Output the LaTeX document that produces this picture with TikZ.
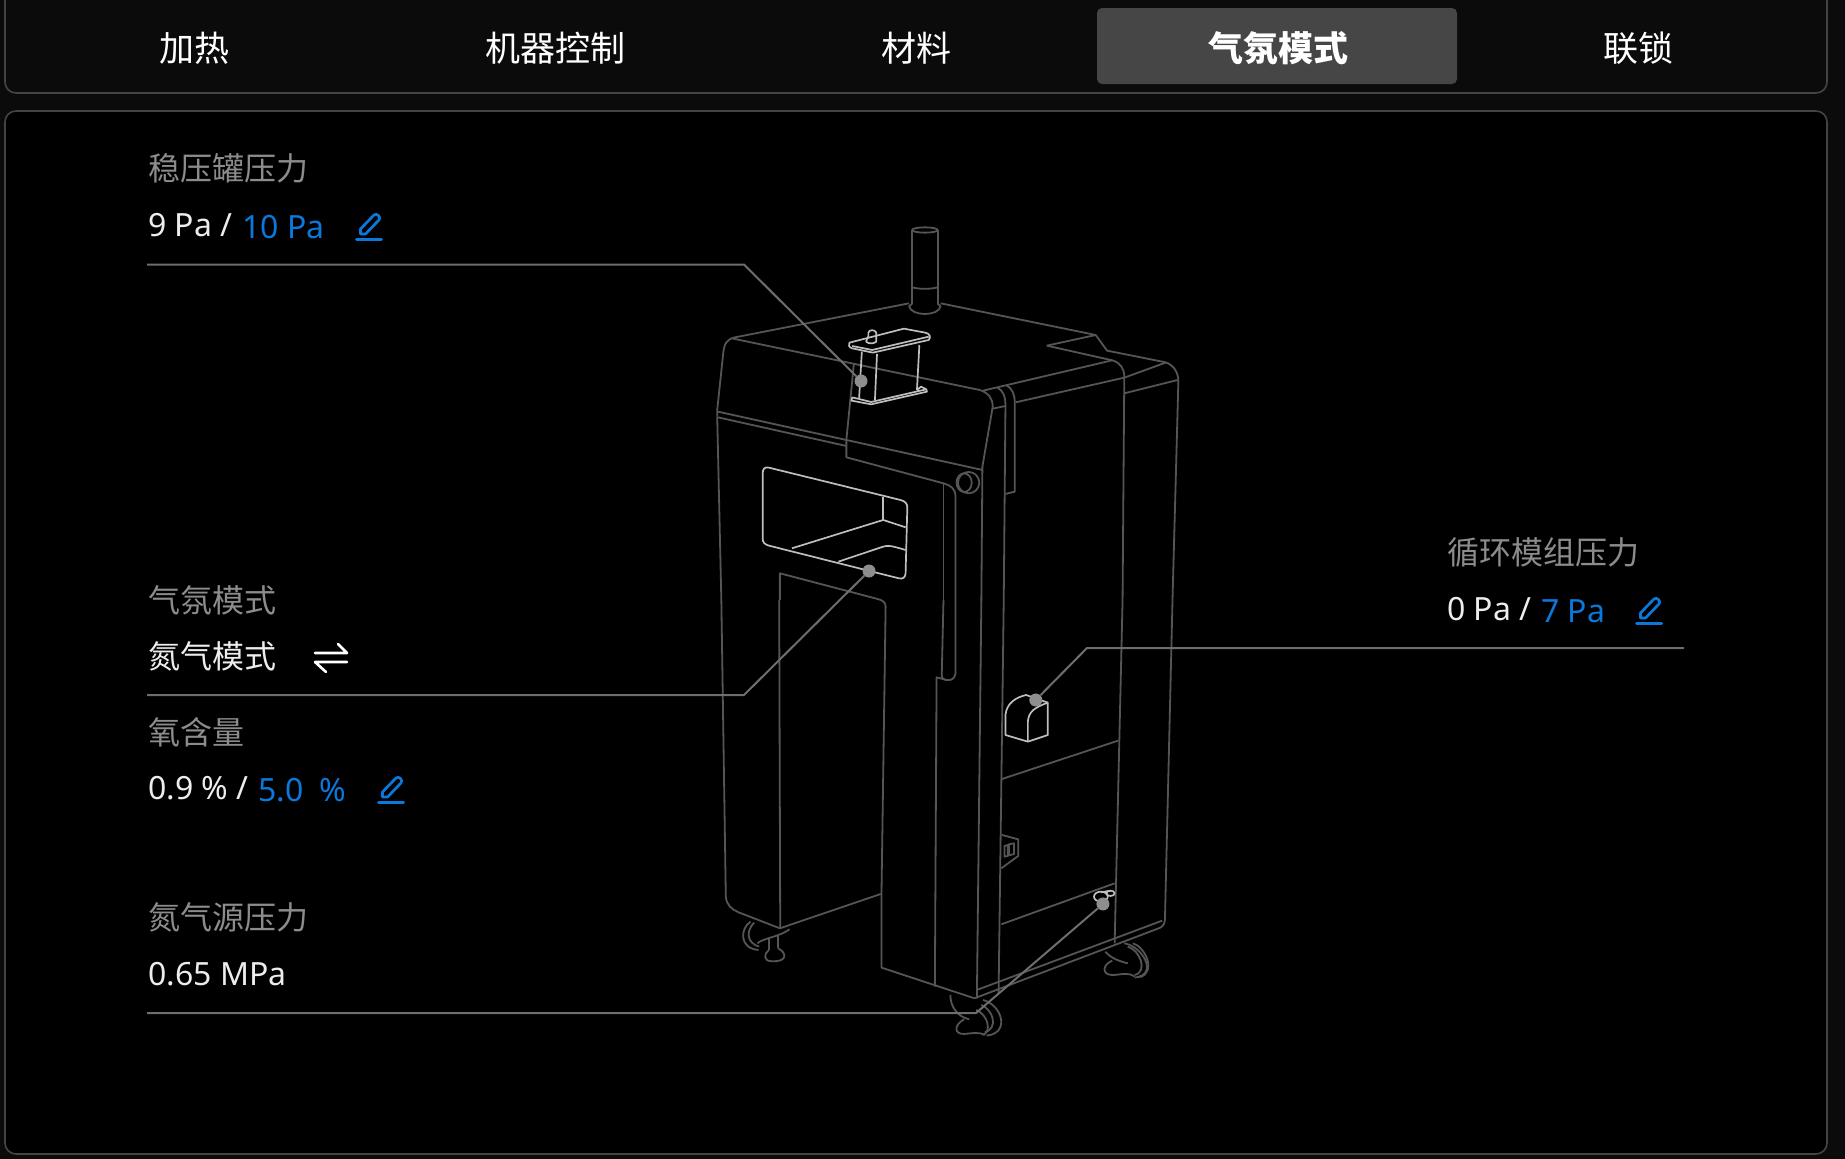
\documentclass[tikz,border=0pt]{standalone}
\usepackage{fontspec}
\setmainfont{Noto Sans}
\newfontfamily\cjkf{Noto Sans CJK SC}
\definecolor{pagebg}{HTML}{0B0B0B}
\definecolor{edge}{HTML}{444444}
\definecolor{tabon}{HTML}{464646}
\definecolor{lab}{HTML}{8C8C8C}
\definecolor{val}{HTML}{EDEDED}
\definecolor{blu}{HTML}{0A78DC}
\definecolor{mline}{HTML}{555555}
\definecolor{bright}{HTML}{BEBEBE}
\definecolor{callout}{HTML}{6E6E6E}
\definecolor{dotc}{HTML}{8E8E8E}
\tikzset{
  tabtext/.style={text=white,font=\cjkf\fontsize{35}{35}\selectfont,inner sep=0pt},
  labtext/.style={text=lab,font=\cjkf\fontsize{32}{32}\selectfont,inner sep=0pt,anchor=base west},
  cjkval/.style={text=val,font=\cjkf\fontsize{32}{32}\selectfont,inner sep=0pt,anchor=base west},
  valtext/.style={text=val,font=\fontsize{32}{32}\selectfont,inner sep=0pt,anchor=base west},
  blutext/.style={text=blu,font=\fontsize{32}{32}\selectfont,inner sep=0pt,anchor=base west},
  mach/.style={draw=mline,line width=1.8pt,line join=round},
  brt/.style={draw=bright,line width=1.7pt,line join=round},
  call/.style={draw=callout,line width=2pt},
  hotdot/.style={circle,fill=dotc,inner sep=0pt,minimum size=13pt},
  ztop/.style={shift={(680,200)},x=0.3444pt,y=-0.3333pt},
  zbot/.style={shift={(680,600)},x=0.3444pt,y=-0.3333pt},
  pencil/.pic={
    \draw[blu,line width=3pt,line cap=round] (-12.5,13) -- (12.5,13);
    \draw[blu,line width=2.7pt,line join=round] (-8.5,8) -- (-8.5,3) -- (5,-11) .. controls (7.5,-13.5) and (12.5,-9) .. (10,-6) -- (-3.5,8) -- cycle;
  }
}
\begin{document}
\begin{tikzpicture}[x=1pt,y=-1pt]
\useasboundingbox (0,0) rectangle (1845,1159);
\fill[pagebg] (0,0) rectangle (1845,1159);
% panels
\draw[edge,line width=1.6pt,fill=pagebg,rounded corners=11pt] (5,-30) rectangle (1827,93);
\draw[edge,line width=1.6pt,fill=black,rounded corners=11pt] (5,111) rectangle (1827,1154);
\fill[tabon,rounded corners=5pt] (1097,8) rectangle (1457,84);
% tabs
\node[tabtext] (t1) at (194,48) {加热};
\node[tabtext] (t2) at (555,48) {机器控制};
\node[tabtext] (t3) at (916,48) {材料};
\node[tabtext,font=\cjkf\bfseries\fontsize{35}{35}\selectfont] (t4) at (1278,48) {气氛模式};
\node[tabtext] (t5) at (1638,48) {联锁};
% machine, upper part
\begin{scope}[ztop]
  % beacon
  \draw[mach] (711,90) ellipse (37 and 8);
  \draw[mach] (674,90) -- (674,312);
  \draw[mach] (748,90) -- (748,312);
  \draw[mach] (674,262) .. controls (695,268) and (727,268) .. (748,262);
  \draw[mach] (665,318) .. controls (670,350) and (752,350) .. (757,318);
  \draw[mach] (665,318) -- (674,312);
  \draw[mach] (757,318) -- (748,312);
  % top outline
  \draw[mach] (108,650) -- (108,630) -- (125,465) .. controls (128,430) and (135,418) .. (160,412) -- (665,310);
  \draw[mach] (757,310) -- (1207,405) -- (1240,452) -- (1410,487) .. controls (1432,495) and (1447,515) .. (1447,545) -- (1430,1200);
  \draw[mach] (150,415) -- (870,570) .. controls (895,578) and (908,595) .. (908,620) -- (878,800) -- (875,1200);
  \draw[mach] (1065,437) -- (1207,405);
  \draw[mach] (1065,437) -- (1255,481) .. controls (1278,488) and (1290,505) .. (1290,530) -- (1285,1200);
  \draw[mach] (880,572) -- (1255,481);
  \draw[mach] (908,626) -- (945,618);
  \draw[mach] (922,563) .. controls (938,572) and (945,590) .. (945,612) -- (940,1200);
  \draw[mach] (948,556) .. controls (965,565) and (972,585) .. (972,605) -- (972,875) -- (945,882);
  \draw[mach] (975,607) -- (1290,533) -- (1410,488);
  \draw[mach] (1290,580) -- (1445,540);
  % bands
  \draw[mach] (110,635) -- (878,810);
  \draw[mach] (110,652) -- (483,738);
  \draw[mach] (505,490) -- (483,720) -- (483,772) -- (765,850) .. controls (785,856) and (800,865) .. (800,890) -- (800,1200);
  \draw[mach] (765,850) -- (765,1200);
  \draw[mach] (108,650) -- (120,1200);
  % hinge
  \draw[mach] (838,848) ellipse (31 and 32);
  \draw[mach] (825,848) ellipse (22 and 28);
  % door opening top
  \draw[mach] (290,1200) -- (290,1120) -- (570,1196);
  % window
  \draw[brt] (258,803) -- (640,900) .. controls (652,903) and (660,910) .. (660,922) -- (655,1120) .. controls (654,1132) and (648,1138) .. (635,1135) -- (258,1037) .. controls (245,1033) and (240,1027) .. (240,1015) -- (240,820) .. controls (240,806) and (247,800) .. (258,803) -- cycle;
  \draw[brt] (590,890) -- (590,960);
  \draw[brt] (325,1045) -- (590,960) -- (655,982);
  \draw[brt] (460,1085) -- (590,1040) .. controls (605,1035) and (615,1038) .. (655,1050);
  % bracket
  \draw[brt] (492,428) -- (650,386) -- (712,398) .. controls (725,400) and (730,412) .. (722,420) -- (560,458) -- (500,445) .. controls (490,442) and (488,434) .. (492,428) -- cycle;
  \draw[brt] (500,438) -- (558,450) -- (722,410);
  \draw[brt] (540,425) -- (547,408) -- (547,398) .. controls (550,388) and (565,388) .. (570,398) -- (570,425) .. controls (562,432) and (548,432) .. (540,425);
  \draw[brt] (528,455) -- (520,595);
  \draw[brt] (572,462) -- (566,600);
  \draw[brt] (695,435) -- (688,570);
  \draw[brt] (500,592) -- (555,606) -- (715,568) -- (700,560) -- (688,570);
  \draw[brt] (500,592) -- (498,602) -- (555,613) -- (717,575) -- (715,568);
\end{scope}
% machine, lower part
\begin{scope}[zbot]
  \draw[mach] (120,0) -- (133,890) .. controls (135,915) and (150,928) .. (170,937) -- (290,985) -- (583,882);
  \draw[mach] (288,0) -- (291,985);
  \draw[mach] (570,-4) .. controls (590,0) and (597,8) .. (597,20) -- (585,882) -- (585,1103) -- (855,1195);
  \draw[mach] (765,0) -- (760,225) .. controls (760,235) and (765,240) .. (775,240);
  \draw[mach] (800,0) -- (800,220) .. controls (798,238) and (785,242) .. (775,240) -- (745,232) -- (740,1160);
  \draw[mach] (875,0) -- (862,1195);
  \draw[mach] (940,0) -- (925,1180);
  \draw[mach] (1285,0) -- (1262,1030);
  \draw[mach] (1430,0) -- (1408,960) .. controls (1406,975) and (1400,982) .. (1390,985) -- (855,1195);
  \draw[mach] (862,1170) -- (1400,962);
  \draw[mach] (935,537) -- (1272,422);
  \draw[mach] (933,973) -- (1262,850);
  % small bracket
  \draw[mach] (935,705) -- (982,718) -- (982,768) -- (933,805);
  \draw[mach] (942,738) -- (952,735) -- (952,768) -- (942,770) -- cycle;
  \draw[mach] (955,733) -- (970,730) -- (970,762) -- (955,766) -- cycle;
  % left caster
  \draw[mach] (205,965) .. controls (175,985) and (170,1045) .. (228,1050);
  \draw[mach] (215,968) .. controls (190,995) and (195,1030) .. (230,1040);
  \draw[mach] (225,1030) .. controls (240,1015) and (290,1010) .. (318,988);
  \draw[mach] (258,1015) -- (258,1050);
  \draw[mach] (285,1008) -- (285,1045);
  \draw[mach] (258,1050) .. controls (245,1060) and (238,1085) .. (270,1084) .. controls (310,1085) and (312,1060) .. (285,1045);
  % right caster
  \draw[mach] (1290,1030) .. controls (1345,1040) and (1390,1125) .. (1320,1133);
  \draw[mach] (1300,1040) .. controls (1335,1050) and (1360,1115) .. (1320,1125);
  \draw[mach] (1315,1030) .. controls (1350,1040) and (1385,1115) .. (1335,1132);
  \draw[mach] (1235,1055) .. controls (1250,1075) and (1280,1085) .. (1300,1090);
  \draw[mach] (1255,1082) .. controls (1225,1095) and (1225,1125) .. (1255,1125) .. controls (1280,1125) and (1300,1115) .. (1320,1130);
  % front caster
  \draw[mach] (785,1185) .. controls (785,1220) and (805,1250) .. (840,1258);
  \draw[mach] (880,1200) .. controls (935,1215) and (960,1300) .. (890,1307);
  \draw[mach] (875,1215) .. controls (910,1230) and (925,1285) .. (885,1297);
  \draw[mach] (860,1230) .. controls (895,1245) and (905,1295) .. (880,1305);
  \draw[mach] (825,1258) .. controls (795,1275) and (795,1303) .. (825,1302) .. controls (850,1300) and (865,1295) .. (885,1305);
  % cylinder box
  \draw[brt] (945,405) -- (945,345) .. controls (948,310) and (975,292) .. (1005,285) -- (1068,308) -- (1068,405) -- (1010,425) -- cycle;
  \draw[brt] (1010,425) -- (1010,365) .. controls (1012,335) and (1030,322) .. (1068,308);
  % valve
  \draw[brt] (1222,890) ellipse (20 and 15);
  \draw[brt] (1250,880) ellipse (12 and 8);
  \draw[brt] (1222,877) -- (1250,872);
  % hot spots
  \node[hotdot] (d4) at (1228,912) {};
  \node[hotdot] (d3) at (1033,300) {};
\end{scope}
\node[hotdot] (d1) at (861,381) {};
\node[hotdot] (d2) at (869,571) {};
% callouts
\coordinate (c1a) at (147,264.5);
\coordinate (c1b) at (744,264.5);
\coordinate (c2a) at (147,695);
\coordinate (c2b) at (744,695);
\coordinate (c3a) at (1684,648);
\coordinate (c3b) at (1087,648);
\coordinate (c4a) at (147,1013);
\coordinate (c4b) at (976,1013);
\draw[call] (c1a) -- (c1b) -- (d1);
\draw[call] (c2a) -- (c2b) -- (d2);
\draw[call] (c3a) -- (c3b) -- (d3);
\draw[call] (c4a) -- (c4b) -- (d4);
% labels
\node[labtext] (l1) at (148,180) {稳压罐压力};
\node[valtext] (v1) at (148,236) {9 Pa /};
\node[blutext] (b1) at (242,238) {10 Pa};
\pic (p1) at (369,226) {pencil};
\node[labtext] (l2) at (148,612) {气氛模式};
\node[cjkval] (v2) at (148,668) {氮气模式};
\draw[white,line width=2.6pt,line cap=round,line join=round] (315,653) -- (347,653) -- (338,644);
\draw[white,line width=2.6pt,line cap=round,line join=round] (347,662) -- (315,662) -- (326,672);
\node[labtext] (l3) at (148,744) {氧含量};
\node[valtext] (v3) at (148,799) {0.9 \% /};
\node[blutext] (b3a) at (258,801) {5.0};
\node[blutext] (b3b) at (319,801) {\%};
\pic (p3) at (391,789) {pencil};
\node[labtext] (l4) at (148,929) {氮气源压力};
\node[valtext] (v4) at (148,985) {0.65 MPa};
\node[labtext] (l5) at (1447,564) {循环模组压力};
\node[valtext] (v5) at (1447,620) {0 Pa /};
\node[blutext] (b5) at (1541,622) {7 Pa};
\pic (p5) at (1649,610) {pencil};
\end{tikzpicture}
\end{document}
